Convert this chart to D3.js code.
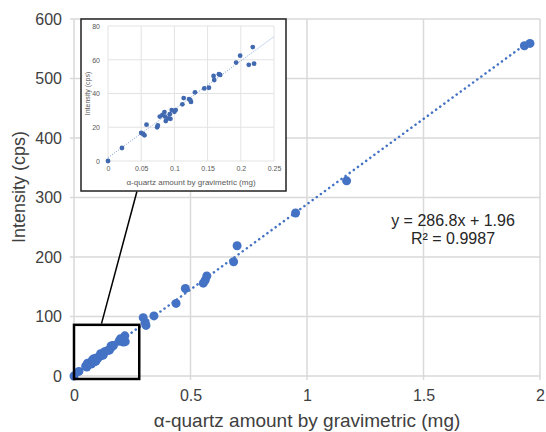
<!DOCTYPE html>
<html>
<head>
<meta charset="utf-8">
<script src="https://cdn.jsdelivr.net/npm/d3@7"></script>
<style>
  body { margin: 0; background: #fff; }
  text { font-family: "Liberation Sans", Arial, sans-serif; }
</style>
</head>
<body>
<div id="chart"></div>
<script>
// main data (mg, cps)
var xVals = [0, 0.021, 0.050, 0.053, 0.055, 0.058, 0.074, 0.075, 0.078, 0.082, 0.085, 0.086, 0.087,
  0.091, 0.093, 0.094, 0.096, 0.100, 0.102, 0.112, 0.114, 0.122, 0.124, 0.125, 0.131, 0.145,
  0.152, 0.159, 0.160, 0.167, 0.169, 0.193, 0.199, 0.212, 0.218, 0.220,
  0.297, 0.305, 0.309, 0.343, 0.438, 0.478, 0.555, 0.563, 0.570, 0.685, 0.700, 0.951, 1.170, 1.933, 1.957];
var yVals = [0, 7.7, 16.6, 16.0, 15.2, 21.5, 20.0, 21.1, 26.3, 27.3, 29.0, 26.3, 23.7,
  25.3, 27.7, 25.0, 30.2, 29.2, 30.2, 33.6, 37.3, 36.7, 36.1, 35.0, 40.7, 43.0,
  43.4, 50.4, 48.0, 51.4, 51.0, 58.3, 62.4, 57.0, 67.5, 57.7,
  98, 90, 85, 101, 122, 147, 156, 161, 168, 192, 219, 274, 328, 555, 559];

// linear fit shown on the chart
var slope = 286.8;
var intercept = 1.96;
var fitText = ["y = 286.8x + 1.96", "R\u00b2 = 0.9987"];

var xTicks = [0, 0.5, 1, 1.5, 2];
var yTicks = [0, 100, 200, 300, 400, 500, 600];
var insetXTicks = [0, 0.05, 0.1, 0.15, 0.2, 0.25];
var insetYTicks = [0, 20, 40, 60, 80];

var data = xVals.map((x, i) => ({x: x, y: yVals[i]}));
var insetData = data.filter(d => d.x <= 0.25);

var svgWidth = 546, svgHeight = 432;
var margin = {top: 19, right: 6, bottom: 56, left: 74};
var width = svgWidth - margin.left - margin.right;
var height = svgHeight - margin.top - margin.bottom;

var blue = "#4472c4";
var gridColor = "#d9d9d9";

var svg = d3.select("#chart").append("svg")
  .attr("width", svgWidth)
  .attr("height", svgHeight);

var chartGroup = svg.append("g")
  .attr("transform", `translate(${margin.left}, ${margin.top})`);

var x = d3.scaleLinear().domain([0, 2]).range([0, 466]);
var y = d3.scaleLinear().domain([0, 600]).range([height, 0]);

// grid
chartGroup.append("g").selectAll("line").data(yTicks).enter().append("line")
  .attr("x1", -4).attr("x2", x(2))
  .attr("y1", d => y(d)).attr("y2", d => y(d))
  .attr("stroke", gridColor).attr("stroke-width", 1.5);
chartGroup.append("g").selectAll("line").data(xTicks).enter().append("line")
  .attr("x1", d => x(d)).attr("x2", d => x(d))
  .attr("y1", 0).attr("y2", height + 4)
  .attr("stroke", gridColor).attr("stroke-width", 1.5);

// axes (labels only)
var bottomAxis = d3.axisBottom(x).tickValues(xTicks).tickSize(0).tickPadding(14).tickFormat(d3.format("~g"));
var leftAxis = d3.axisLeft(y).tickValues(yTicks).tickSize(0).tickPadding(12);

chartGroup.append("g")
  .attr("transform", `translate(0, ${height})`)
  .call(bottomAxis)
  .call(g => g.select(".domain").remove())
  .selectAll("text").style("font-size", "16px").attr("fill", "#404040");

chartGroup.append("g")
  .call(leftAxis)
  .call(g => g.select(".domain").remove())
  .selectAll("text").style("font-size", "16px").attr("fill", "#404040");

// trendline
chartGroup.append("line")
  .attr("x1", x(0)).attr("y1", y(intercept))
  .attr("x2", x(1.96)).attr("y2", y(slope * 1.96 + intercept))
  .attr("stroke", blue).attr("stroke-width", 2.5)
  .attr("stroke-dasharray", "0.1 5").attr("stroke-linecap", "round");

// points
chartGroup.append("g").selectAll("circle").data(data).enter().append("circle")
  .attr("cx", d => x(d.x)).attr("cy", d => y(d.y))
  .attr("r", 4.5).attr("fill", blue);

// fit equation
chartGroup.append("text")
  .attr("x", 379).attr("y", 207)
  .attr("text-anchor", "middle")
  .style("font-size", "16px").attr("fill", "#262626")
  .selectAll("tspan").data(fitText).enter().append("tspan")
  .attr("x", 379).attr("dy", (d, i) => i ? "1.15em" : 0)
  .text(d => d);

// axis titles
chartGroup.append("text")
  .attr("x", x(1)).attr("y", height + 51)
  .attr("text-anchor", "middle")
  .style("font-size", "19px").attr("fill", "#404040")
  .text("\u03b1-quartz amount by gravimetric (mg)");

chartGroup.append("text")
  .attr("transform", "rotate(-90)")
  .attr("x", -168).attr("y", -49)
  .attr("text-anchor", "middle")
  .style("font-size", "18px").attr("fill", "#404040")
  .text("Intensity (cps)");

// zoom box + connector
chartGroup.append("rect")
  .attr("x", x(0)).attr("y", y(86))
  .attr("width", x(0.28) - x(0)).attr("height", y(-5) - y(86))
  .attr("fill", "none").attr("stroke", "#000").attr("stroke-width", 2.5);

chartGroup.append("line")
  .attr("x1", x(0.118)).attr("y1", y(88))
  .attr("x2", x(0.27)).attr("y2", y(310))
  .attr("stroke", "#000").attr("stroke-width", 1.5);

// inset
var inset = svg.append("g").attr("transform", "translate(81, 19)");
inset.append("rect")
  .attr("width", 205).attr("height", 172)
  .attr("fill", "#fff").attr("stroke", "#222").attr("stroke-width", 1.5);

var ix = d3.scaleLinear().domain([0, 0.25]).range([27, 193]);
var iy = d3.scaleLinear().domain([0, 80]).range([142, 7]);

inset.append("g").selectAll("line").data(insetYTicks).enter().append("line")
  .attr("x1", ix(0)).attr("x2", ix(0.25))
  .attr("y1", d => iy(d)).attr("y2", d => iy(d))
  .attr("stroke", "#e3e3e3").attr("stroke-width", 1);
inset.append("g").selectAll("line").data(insetXTicks).enter().append("line")
  .attr("x1", d => ix(d)).attr("x2", d => ix(d))
  .attr("y1", iy(80)).attr("y2", iy(0))
  .attr("stroke", "#e3e3e3").attr("stroke-width", 1);

inset.append("g")
  .attr("transform", `translate(0, ${iy(0)})`)
  .call(d3.axisBottom(ix).tickValues(insetXTicks).tickSize(0).tickPadding(5).tickFormat(d3.format("~g")))
  .call(g => g.select(".domain").remove())
  .selectAll("text").style("font-size", "7px").attr("fill", "#595959");

inset.append("g")
  .attr("transform", `translate(${ix(0)}, 0)`)
  .call(d3.axisLeft(iy).tickValues(insetYTicks).tickSize(0).tickPadding(8))
  .call(g => g.select(".domain").remove())
  .selectAll("text").style("font-size", "7px").attr("fill", "#595959");

inset.append("line")
  .attr("x1", ix(0)).attr("y1", iy(intercept))
  .attr("x2", ix(0.25)).attr("y2", iy(slope * 0.25 + intercept))
  .attr("stroke", "#5b87c9").attr("stroke-width", 0.8)
  .attr("stroke-dasharray", "1 1.5");

inset.append("g").selectAll("circle").data(insetData).enter().append("circle")
  .attr("cx", d => ix(d.x)).attr("cy", d => iy(d.y))
  .attr("r", 2.4).attr("fill", "#4169b0");

inset.append("text")
  .attr("x", ix(0.125)).attr("y", 166)
  .attr("text-anchor", "middle")
  .style("font-size", "8px").attr("fill", "#595959")
  .text("\u03b1-quartz amount by gravimetric (mg)");

inset.append("text")
  .attr("transform", "rotate(-90)")
  .attr("x", -iy(40)).attr("y", 9)
  .attr("text-anchor", "middle")
  .style("font-size", "7px").attr("fill", "#595959")
  .text("Intensity (cps)");
</script>
</body>
</html>
